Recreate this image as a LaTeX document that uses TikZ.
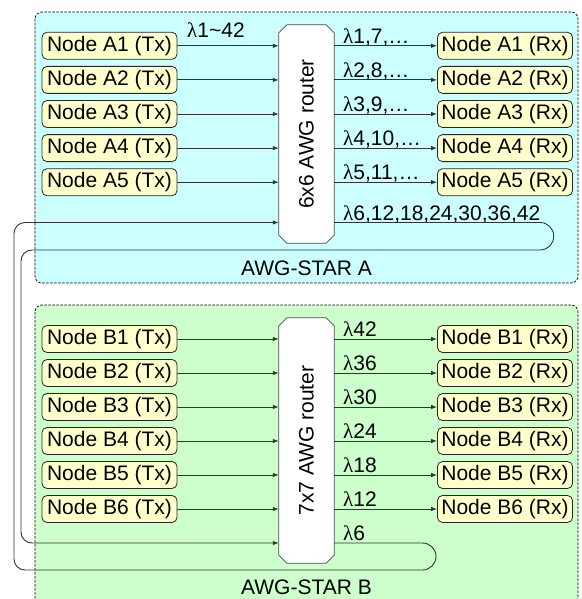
\documentclass[tikz,border=0pt]{standalone}
\usepackage{fontspec}
\setmainfont{Liberation Sans}
\newfontfamily\lamfont{Liberation Serif}
\newcommand\mylam{{\lamfont λ}}
\usetikzlibrary{arrows.meta}
\definecolor{starA}{HTML}{CCFFFF}
\definecolor{starB}{HTML}{CCFFCC}
\definecolor{nodeY}{HTML}{FFFFCC}
\definecolor{lineC}{HTML}{333333}
\begin{document}
\begin{tikzpicture}[x=1pt,y=-1pt,
  every node/.style={font=\fontsize{21}{24}\selectfont},
  starbox/.style={draw=black, dashed, dash pattern=on 2.5pt off 1.5pt, rounded corners=7pt, line width=0.7pt},
  endnode/.style={draw=black!85, fill=nodeY, rounded corners=5pt, minimum width=135pt, minimum height=27pt, inner sep=0pt, line width=0.8pt},
  router/.style={rectangle, minimum width=55pt, inner sep=0pt},
  routerline/.style={draw=black!70, fill=white, line width=0.8pt},
  link/.style={draw=lineC, line width=0.9pt, -{Latex[length=6pt,width=4.5pt]}},
  loopline/.style={draw=lineC, line width=0.9pt},
  lbl/.style={anchor=base west, inner sep=0pt}]
\useasboundingbox (0,0) rectangle (581,599);
\clip (0,0) rectangle (581,599);
% star boxes
\draw[starbox, fill=starA] (35,12) rectangle (578,283);
\draw[starbox, fill=starB] (35,305) rectangle (578,620);
\node (labA) at (306.5,268) {AWG-STAR A};
\node (labB) at (306.5,587) {AWG-STAR B};
% routers
\node[router, minimum height=218pt] (rA) at (306.5,134) {};
\node[router, minimum height=245pt] (rB) at (306.5,440.5) {};
\foreach \r in {rA,rB}{
  \draw[routerline] ([xshift=8pt]\r.north west) -- ([xshift=-8pt]\r.north east) -- ([yshift=-8pt]\r.north east)
    -- ([yshift=8pt]\r.south east) -- ([xshift=-8pt]\r.south east) -- ([xshift=8pt]\r.south west)
    -- ([yshift=8pt]\r.south west) -- ([yshift=-8pt]\r.north west) -- cycle;
}
\node[rotate=90] (rAt) at (rA.center) {6x6 AWG router};
\node[rotate=90] (rBt) at (rB.center) {7x7 AWG router};
% star A nodes
\foreach \i/\y/\l in {1/45.8/{1,7,…},2/79.9/{2,8,…},3/114/{3,9,…},4/148.1/{4,10,…},5/182.2/{5,11,…}}{
  \node[endnode] (txA\i) at (109.5,\y) {Node A\i\ (Tx)};
  \node[endnode] (rxA\i) at (505,\y) {Node A\i\ (Rx)};
  \draw[link] (txA\i.east) -- (txA\i.east -| rA.west);
  \draw[link] (rA.east |- rxA\i.west) -- (rxA\i.west);
  \node[lbl] (lA\i) at (343,\y-2.5) {\mylam\l};
}
\node[lbl] (lAin) at (187,38) {\mylam1\char`~42};
\coordinate (yA6) at (0,222.5);
\node[lbl] (lA6) at (343,220) {\mylam6,12,18,24,30,36,42};
% star B nodes
\foreach \i/\y/\l in {1/339/42,2/373/36,3/407/30,4/441/24,5/475/18,6/509/12}{
  \node[endnode] (txB\i) at (109.5,\y) {Node B\i\ (Tx)};
  \node[endnode] (rxB\i) at (505,\y) {Node B\i\ (Rx)};
  \draw[link] (txB\i.east) -- (txB\i.east -| rB.west);
  \draw[link] (rB.east |- rxB\i.west) -- (rxB\i.west);
  \node[lbl] (lB\i) at (343,\y-2.5) {\mylam\l};
}
\coordinate (yB7) at (0,543);
\node[lbl] (lB7) at (343,540.5) {\mylam6};
% loops
\draw[loopline, -{Latex[length=6pt,width=4.5pt]}] (rA.east |- yA6) [rounded corners=13.75pt] -- (553.75,222.5) -- (553.75,250) -- (300,250) [rounded corners=11pt] -- (21,250) -- (21,543) -- (rB.west |- yB7);
\draw[loopline, -{Latex[length=6pt,width=4.5pt]}] (rB.east |- yB7) [rounded corners=13.5pt] -- (436,543) -- (436,570) -- (300,570) [rounded corners=11pt] -- (14,570) -- (14,222.5) -- (rA.west |- yA6);
\end{tikzpicture}
\end{document}
